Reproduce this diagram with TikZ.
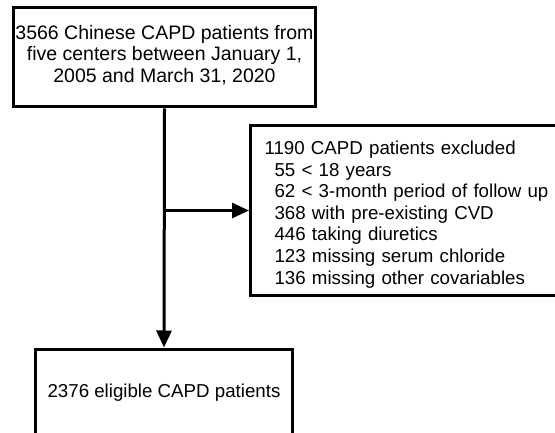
\documentclass[tikz,border=0pt]{standalone}
\usepackage{fontspec}
\setmainfont{Liberation Sans}
\usetikzlibrary{arrows.meta}
\begin{document}
\begin{tikzpicture}[x=1bp,y=-1bp,
  box/.style={draw=black, line width=3bp, fill=white, inner sep=0pt,
    font=\fontsize{18.7bp}{21.6bp}\selectfont},
  conn/.style={line width=3bp, -{Triangle[length=17bp,width=15bp]}}]
\clip (0,0) rectangle (555,433);
\useasboundingbox (0,0) rectangle (555,433);
\node[box, minimum width=301bp, minimum height=99bp, align=center,
  font=\fontsize{19.5bp}{21.5bp}\selectfont] (top) at (164.5,57.5)
  {3566 Chinese CAPD patients from\\five centers between January 1,\\2005 and March 31, 2020\rule[-8bp]{0pt}{8bp}};
\node[box, anchor=west, minimum height=169bp, text width=300bp, align=left, inner xsep=14bp] (excl) at (249,210.5)
  {\rule{0pt}{21.5bp}1190 CAPD patients excluded\\
  \hspace*{10bp}55 < 18 years\\
  \hspace*{10bp}62 < 3-month period of follow up\\
  \hspace*{10bp}368 with pre-existing CVD\\
  \hspace*{10bp}446 taking diuretics\\
  \hspace*{10bp}123 missing serum chloride\\
  \hspace*{10bp}136 missing other covariables};
\node[box, minimum width=256bp, minimum height=88bp, align=center] (elig) at (164,393)
  {2376 eligible CAPD patients};
\coordinate (branch) at (top.south |- excl.west);
\draw[conn] (top.south) -- (elig.north);
\draw[conn] (branch) -- (excl.west);
\end{tikzpicture}
\end{document}
